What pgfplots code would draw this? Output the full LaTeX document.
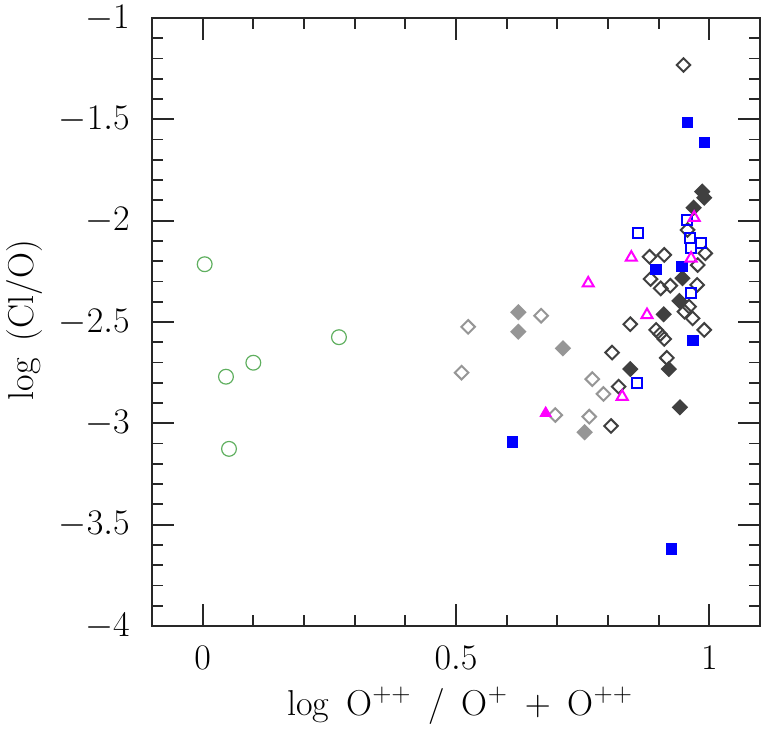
\RequirePackage{fix-cm}
\documentclass[border=0pt]{standalone}
\usepackage{pgfplots}
\pgfplotsset{compat=1.18}
\definecolor{cgreen}{RGB}{95,175,95}
\definecolor{lgrey}{RGB}{150,150,150}
\definecolor{dgrey}{RGB}{64,64,64}
\definecolor{cmag}{RGB}{255,0,255}
\definecolor{cblue}{RGB}{0,0,255}
\definecolor{frm}{RGB}{40,40,40}
\begin{document}
\begin{tikzpicture}
\useasboundingbox (-76pt,-64pt) rectangle (307pt,313pt);
\begin{axis}[
  width=304pt, height=304pt, scale only axis,
  xmin=-0.1, xmax=1.1, ymin=-4, ymax=-1,
  xtick={0,0.5,1}, ytick={-4,-3.5,-3,-2.5,-2,-1.5,-1},
  minor tick num=4,
  tick align=inside, tick pos=both,
  xticklabel pos=lower, yticklabel pos=left,
  major tick length=11pt, minor tick length=5.5pt,
  axis line style={frm, line width=1pt},
  every tick/.style={frm, line width=0.9pt},
  ticklabel style={font=\fontsize{18}{20}\selectfont, inner sep=0pt},
  xticklabel style={anchor=north, yshift=-10pt},
  yticklabel style={anchor=east, xshift=-11pt},
  xlabel={log\, O$^{++}$\, / \,O$^{+}$\, $+$\, O$^{++}$},
  ylabel={log\, (Cl/O)},
  xlabel style={font=\fontsize{18}{20}\selectfont, inner sep=0pt, at={(axis description cs:0.507,-0.1464)}, anchor=base},
  ylabel style={font=\fontsize{18}{20}\selectfont, inner sep=0pt, at={(axis description cs:-0.1957,0.503)}, anchor=base},
]
% green open circles
\addplot[only marks, mark=o, color=cgreen, mark size=3.7pt, line width=0.6pt] coordinates {
(0.004,-2.215) (0.046,-2.770) (0.100,-2.701) (0.052,-3.126) (0.269,-2.575)};
% light grey open diamonds
\addplot[only marks, mark=square, mark options={rotate=45}, color=lgrey, mark size=2.4pt, line width=1pt] coordinates {
(0.524,-2.524) (0.668,-2.469) (0.511,-2.750) (0.769,-2.782) (0.791,-2.855) (0.696,-2.959) (0.763,-2.967)};
% light grey filled diamonds
\addplot[only marks, mark=square*, mark options={rotate=45, fill=lgrey, draw=lgrey}, color=lgrey, mark size=2.4pt, line width=1pt] coordinates {
(0.623,-2.452) (0.623,-2.548) (0.711,-2.630) (0.754,-3.044)};
% dark open diamonds
\addplot[only marks, mark=square, mark options={rotate=45}, color=dgrey, mark size=2.4pt, line width=1pt] coordinates {
(0.949,-1.232) (0.957,-2.046) (0.992,-2.161) (0.977,-2.219) (0.882,-2.178) (0.911,-2.169) (0.884,-2.288) (0.904,-2.334) (0.923,-2.321) (0.976,-2.317) (0.951,-2.449) (0.960,-2.424) (0.967,-2.482) (0.844,-2.511) (0.990,-2.539) (0.895,-2.539) (0.903,-2.560) (0.911,-2.584) (0.808,-2.651) (0.916,-2.677) (0.821,-2.819) (0.806,-3.013)};
% dark filled diamonds
\addplot[only marks, mark=square*, mark options={rotate=45, fill=dgrey, draw=dgrey}, color=dgrey, mark size=2.4pt, line width=1pt] coordinates {
(0.986,-1.857) (0.990,-1.887) (0.969,-1.936) (0.947,-2.284) (0.941,-2.396) (0.910,-2.462) (0.844,-2.732) (0.920,-2.732) (0.942,-2.921)};
% blue filled squares
\addplot[only marks, mark=square*, mark options={fill=cblue, draw=cblue}, color=cblue, mark size=2.6pt, line width=0.5pt] coordinates {
(0.957,-1.517) (0.990,-1.615) (0.895,-2.240) (0.946,-2.227) (0.968,-2.590) (0.612,-3.093) (0.925,-3.620)};
% blue open squares
\addplot[only marks, mark=square, color=cblue, mark size=2.5pt, line width=1pt] coordinates {
(0.955,-1.997) (0.859,-2.061) (0.961,-2.087) (0.984,-2.109) (0.964,-2.136) (0.964,-2.355) (0.857,-2.802)};
% magenta open triangles
\addplot[only marks, mark=triangle, color=cmag, mark size=3.2pt, line width=1pt] coordinates {
(0.970,-1.985) (0.964,-2.186) (0.846,-2.182) (0.761,-2.309) (0.877,-2.465) (0.828,-2.868)};
% magenta filled triangle
\addplot[only marks, mark=triangle*, mark options={fill=cmag, draw=cmag}, color=cmag, mark size=3.2pt, line width=0.5pt] coordinates {
(0.677,-2.950)};
\end{axis}
\end{tikzpicture}
\end{document}
